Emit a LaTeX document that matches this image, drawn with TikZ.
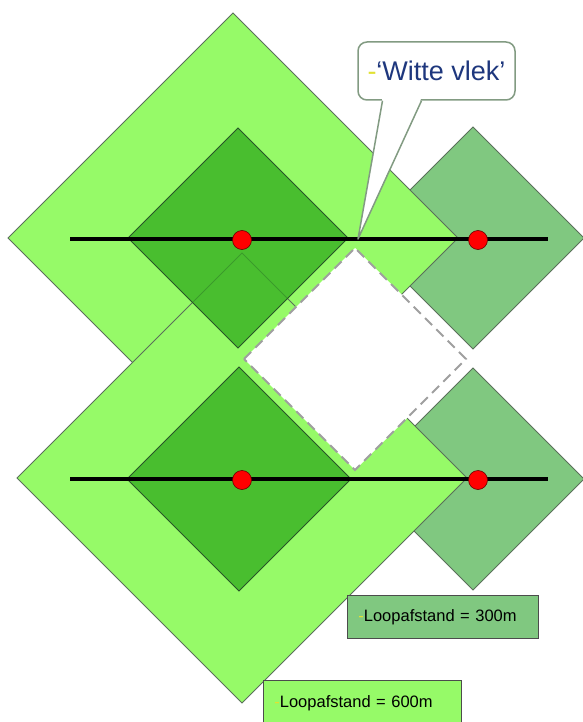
\documentclass[tikz,border=0pt]{standalone}
\usepackage{fontspec}
\setmainfont{Liberation Sans}

\definecolor{zonelight}{RGB}{150,250,104}
\definecolor{zonedark}{RGB}{48,170,28}
\definecolor{zonemid}{RGB}{128,200,128}
\definecolor{edgegray}{RGB}{90,112,90}
\definecolor{edgedark}{RGB}{40,85,40}
\definecolor{calloutgray}{RGB}{130,155,130}
\definecolor{vlekblue}{RGB}{30,55,125}
\definecolor{bulletyellow}{RGB}{225,225,50}

\tikzset{
    bigzone/.style={fill=zonelight, draw=edgegray, line width=0.8pt},
    smallzone/.style={fill=zonedark, fill opacity=0.75, draw=edgedark, line width=0.8pt},
    sidezone/.style={fill=zonemid, draw=edgegray, line width=0.8pt},
    gap/.style={fill=white, draw=gray!75, line width=2pt, dash pattern=on 10pt off 6pt},
    road/.style={line width=3.2pt, black},
    halte/.style={circle, fill=red, draw=red!40!black, line width=0.6pt, minimum size=19pt, inner sep=0pt},
    callout/.style={draw=calloutgray, fill=white, line width=1.5pt, rounded corners=9pt,
        minimum width=157pt, minimum height=58pt, text=vlekblue, font=\fontsize{27}{30}\selectfont},
    calloutline/.style={draw=calloutgray, line width=1.5pt, line join=round},
    legend/.style={draw=black!70, line width=0.8pt, anchor=north west, minimum height=43pt,
        inner xsep=11pt, align=left, text=black, font=\fontsize{16.5}{18}\selectfont}
}

\begin{document}
\begin{tikzpicture}[x=1pt,y=-1pt]
    \useasboundingbox (0,0) rectangle (582,722);

    % 300m 区域 (右侧)
    \foreach \cx/\cy in {473/238, 473/479} {
        \filldraw[sidezone] (\cx,\cy) ++(-111,0) -- ++(111,-111) -- ++(111,111) -- ++(-111,111) -- cycle;
    }

    % 600m 区域
    \foreach \cx/\cy in {233/238, 242/478} {
        \filldraw[bigzone] (\cx,\cy) ++(-225,0) -- ++(225,-225) -- ++(225,225) -- ++(-225,225) -- cycle;
    }

    % 300m 区域 (左侧)
    \foreach \cx/\cy/\r in {238/238/110, 239/479/112} {
        \filldraw[smallzone] (\cx,\cy) ++(-\r,0) -- ++(\r,-\r) -- ++(\r,\r) -- ++(-\r,\r) -- cycle;
    }

    % 空白区域
    \filldraw[gap] (355,359) ++(-111,0) -- ++(111,-111) -- ++(111,111) -- ++(-111,111) -- cycle;

    % 道路
    \draw[road] (70,239) -- (548,239);
    \draw[road] (70,479) -- (548,479);

    % 站点
    \foreach \n/\x/\y in {a/242/240, b/478/240, c/242/480, d/478/480} {
        \node[halte] (halte-\n) at (\x,\y) {};
    }

    % 标注
    \node[callout] (vlek) at (436.5,71) {\textcolor{bulletyellow}{-}‘Witte vlek’};
    \coordinate (vlek-tip) at (358,239);
    \fill[white] ([shift={(-54,-3)}]vlek.south) -- (vlek-tip) -- ([shift={(-15,-3)}]vlek.south) -- cycle;
    \draw[calloutline] ([shift={(-54,0)}]vlek.south) -- (vlek-tip) -- ([shift={(-15,0)}]vlek.south);

    % 图例
    \node[legend, fill=zonemid, text width=169pt] (leg300) at (347,595) {\textcolor{bulletyellow}{-}Loopafstand = 300m};
    \node[legend, fill=zonelight, text width=176pt, minimum height=46pt] (leg600) at (263,680) {\textcolor{bulletyellow}{-}Loopafstand = 600m};
\end{tikzpicture}
\end{document}
